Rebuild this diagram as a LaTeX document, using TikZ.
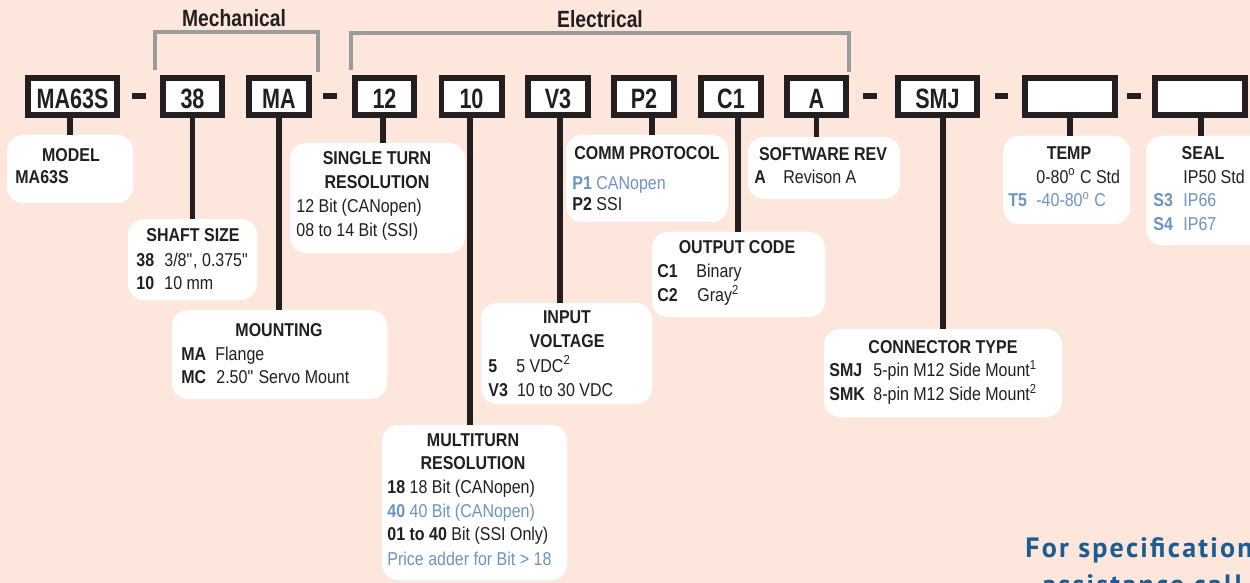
\documentclass[tikz,border=0pt]{standalone}
\usepackage{fontspec}
\setmainfont{Liberation Sans}[FakeStretch=0.86]
\newfontfamily\boxff{Liberation Sans}[FakeStretch=0.77]
\newfontfamily\titleff{Liberation Sans}[FakeStretch=0.82]
\newfontfamily\footff{PT Sans}[LetterSpace=8]
\definecolor{bgpeach}{RGB}{253,231,220}
\definecolor{inkblack}{RGB}{35,31,32}
\definecolor{brgray}{RGB}{155,155,155}
\definecolor{optblue}{RGB}{107,148,197}
\definecolor{footblue}{RGB}{29,92,145}
\begin{document}
\begin{tikzpicture}[x=0.5pt,y=-0.5pt,
 pbox/.style={draw=inkblack, line width=2.8pt, fill=white, minimum height=18.7pt, inner sep=0pt,
   font=\boxff\bfseries\fontsize{14}{16}\selectfont, text=inkblack, text height=13.8pt, text depth=2pt},
 callout/.style={fill=white, rounded corners=8pt, inner sep=0pt},
 stem/.style={draw=inkblack, line width=2.9pt},
 bracket/.style={draw=brgray, line width=2pt},
 ttl/.style={anchor=base, inner sep=0pt, font=\titleff\bfseries\fontsize{11.75}{14}\selectfont, text=inkblack},
 hd/.style={anchor=base, inner sep=0pt, font=\bfseries\fontsize{9.3}{11}\selectfont, text=inkblack},
 tl/.style={anchor=base west, inner sep=0pt, font=\fontsize{9.3}{11}\selectfont, text=inkblack},
 bl/.style={tl, text=optblue},
 dashbar/.style={fill=inkblack},
 foot/.style={anchor=base west, inner sep=0pt, font=\footff\bfseries\fontsize{14}{16}\selectfont, text=footblue},
]
\useasboundingbox (0,0) rectangle (1250,583);
\fill[bgpeach] (0,0) rectangle (1250,583);
\clip (0,0) rectangle (1250,583);

% titles and brackets
\node[ttl] (tMech) at (234,27) {Mechanical};
\node[ttl] (tElec) at (600,28) {Electrical};
\draw[bracket] (155,70) -- (155,32) -- (318,32) -- (318,72);
\draw[bracket] (351,70) -- (351,33) -- (849,33) -- (849,72);

% part number boxes
\node[pbox, minimum width=44.7pt] (bModel) at (72.5,96.5) {MA63S};
\node[pbox, minimum width=29.7pt] (bShaft) at (192.5,96.5) {38};
\node[pbox, minimum width=30.2pt] (bMount) at (279,96.5) {MA};
\node[pbox, minimum width=29.7pt] (bSingle) at (384.5,96.5) {12};
\node[pbox, minimum width=30.2pt] (bMulti) at (471.5,96.5) {10};
\node[pbox, minimum width=30.2pt] (bInput) at (558,96.5) {V3};
\node[pbox, minimum width=30.2pt] (bComm) at (644,96.5) {P2};
\node[pbox, minimum width=30.2pt] (bOut) at (731,96.5) {C1};
\node[pbox, minimum width=29.7pt] (bSoft) at (816.5,96.5) {A};
\node[pbox, minimum width=39.7pt] (bConn) at (937.5,96.5) {SMJ};
\node[pbox, minimum width=45.2pt] (bTemp) at (1070,96.5) {};
\node[pbox, minimum width=45.2pt] (bSeal) at (1200,96.5) {};

% dashes
\fill[dashbar] (132,93.5) rectangle (146,99.5);
\fill[dashbar] (323,93.5) rectangle (337,99.5);
\fill[dashbar] (863,93.5) rectangle (877,99.5);
\fill[dashbar] (995,93.5) rectangle (1008,99.5);
\fill[dashbar] (1127,93.5) rectangle (1141,99.5);

% callouts
\node[callout, minimum width=63pt, minimum height=34pt] (cModel) at (70,169) {};
\node[callout, minimum width=64.5pt, minimum height=40.5pt] (cShaft) at (192.5,259.5) {};
\node[callout, minimum width=107.5pt, minimum height=44.5pt] (cMount) at (279.5,354.5) {};
\node[callout, minimum width=87.5pt, minimum height=55pt] (cSingle) at (377.5,198) {};
\node[callout, minimum width=92.5pt, minimum height=77.5pt] (cMulti) at (474.5,502.5) {};
\node[callout, minimum width=85.5pt, minimum height=50.5pt] (cInput) at (566.5,353.5) {};
\node[callout, minimum width=81pt, minimum height=43.5pt] (cComm) at (647,178.5) {};
\node[callout, minimum width=86.5pt, minimum height=42.5pt] (cOut) at (738.5,274.5) {};
\node[callout, minimum width=76pt, minimum height=31pt] (cSoft) at (824,168) {};
\node[callout, minimum width=63.5pt, minimum height=44pt] (cTemp) at (1066.5,180) {};
\node[callout, minimum width=62pt, minimum height=54.5pt] (cSeal) at (1208,190.5) {};
\node[callout, minimum width=119pt, minimum height=44pt] (cConn) at (943,373) {};

% stems
\draw[stem] ([xshift=-1.25pt]bModel.south) -- ([xshift=-1.25pt]bModel.south |- cModel.north);
\draw[stem] (bShaft.south) -- (bShaft.south |- cShaft.north);
\draw[stem] (bMount.south) -- (bMount.south |- cMount.north);
\draw[stem] ([xshift=-0.75pt]bSingle.south) -- ([xshift=-0.75pt]bSingle.south |- cSingle.north);
\draw[stem] ([xshift=-0.75pt]bMulti.south) -- ([xshift=-0.75pt]bMulti.south |- cMulti.north);
\draw[stem] ([xshift=1pt]bInput.south) -- ([xshift=1pt]bInput.south |- cInput.north);
\draw[stem] ([xshift=4pt]bComm.south) -- ([xshift=4pt]bComm.south |- cComm.north);
\draw[stem] ([xshift=3.5pt]bOut.south) -- ([xshift=3.5pt]bOut.south |- cOut.north);
\draw[stem] (bSoft.south) -- (bSoft.south |- cSoft.north);
\draw[stem] ([xshift=2.75pt]bConn.south) -- ([xshift=2.75pt]bConn.south |- cConn.north);
\draw[stem] (bTemp.south) -- (bTemp.south |- cTemp.north);
\draw[stem] ([xshift=0.5pt]bSeal.south) -- ([xshift=0.5pt]bSeal.south |- cSeal.north);

% MODEL
\node[hd] (tModelH) at (71,161.7) {MODEL};
\node[tl] (tModel1) at (15,183.3) {\textbf{MA63S}};
% SHAFT SIZE
\node[hd] (tShaftH) at (193,241.7) {SHAFT SIZE};
\node[tl] (tShaft1a) at (136,266.7) {\textbf{38}};
\node[tl] (tShaft1b) at (164,266.7) {3/8\textquotedbl, 0.375\textquotedbl};
\node[tl] (tShaft2a) at (136,290) {\textbf{10}};
\node[tl] (tShaft2b) at (164,290) {10 mm};
% MOUNTING
\node[hd] (tMountH) at (279,336.7) {MOUNTING};
\node[tl] (tMount1a) at (181,360) {\textbf{MA}};
\node[tl] (tMount1b) at (215,360) {Flange};
\node[tl] (tMount2a) at (181,384) {\textbf{MC}};
\node[tl] (tMount2b) at (216,384) {2.50\textquotedbl\ Servo Mount};
% SINGLE TURN
\node[hd] (tSingleH1) at (377,165) {SINGLE TURN};
\node[hd] (tSingleH2) at (377,188.3) {RESOLUTION};
\node[tl] (tSingle1) at (296,213) {12 Bit (CANopen)};
\node[tl] (tSingle2) at (296,236.7) {08 to 14 Bit (SSI)};
% MULTITURN
\node[hd] (tMultiH1) at (473,446.7) {MULTITURN};
\node[hd] (tMultiH2) at (473,469.3) {RESOLUTION};
\node[tl] (tMulti1) at (387,494) {\textbf{18} 18 Bit (CANopen)};
\node[bl] (tMulti2) at (387,517.3) {\textbf{40} 40 Bit (CANopen)};
\node[tl] (tMulti3) at (387,540.7) {\textbf{01 to 40} Bit (SSI Only)};
\node[bl] (tMulti4) at (387,565) {Price adder for Bit > 18};
% INPUT VOLTAGE
\node[hd] (tInputH1) at (567,324) {INPUT};
\node[hd] (tInputH2) at (567,347.7) {VOLTAGE};
\node[tl] (tInput1a) at (488,372.3) {\textbf{5}};
\node[tl] (tInput1b) at (516,372.3) {5 VDC\textsuperscript{2}};
\node[tl] (tInput2a) at (488,396) {\textbf{V3}};
\node[tl] (tInput2b) at (516.7,396) {10 to 30 VDC};
% COMM PROTOCOL
\node[hd] (tCommH) at (647,160) {COMM PROTOCOL};
\node[bl] (tComm1) at (572,190) {\textbf{P1} CANopen};
\node[tl] (tComm2) at (572,210.7) {\textbf{P2} SSI};
% OUTPUT CODE
\node[hd] (tOutH) at (737,254) {OUTPUT CODE};
\node[tl] (tOut1a) at (657,277.3) {\textbf{C1}};
\node[tl] (tOut1b) at (696,277.3) {Binary};
\node[tl] (tOut2a) at (657,301.7) {\textbf{C2}};
\node[tl] (tOut2b) at (697,301.7) {Gray\textsuperscript{2}};
% SOFTWARE REV
\node[hd] (tSoftH) at (823,160.7) {SOFTWARE REV};
\node[tl] (tSoft1a) at (754,184) {\textbf{A}};
\node[tl] (tSoft1b) at (783,184) {Revison A};
% TEMP
\node[hd] (tTempH) at (1069,159.3) {TEMP};
\node[tl] (tTemp1) at (1036,183.3) {0-80\textsuperscript{o} C Std};
\node[bl] (tTemp2a) at (1008,206.7) {\textbf{T5}};
\node[bl] (tTemp2b) at (1036,206.7) {-40-80\textsuperscript{o} C};
% SEAL
\node[hd] (tSealH) at (1203,159.3) {SEAL};
\node[tl] (tSeal1) at (1183,183.3) {IP50 Std};
\node[bl] (tSeal2a) at (1153,206.7) {\textbf{S3}};
\node[bl] (tSeal2b) at (1183,206.7) {IP66};
\node[bl] (tSeal3a) at (1153,230.7) {\textbf{S4}};
\node[bl] (tSeal3b) at (1183,230.7) {IP67};
% CONNECTOR TYPE
\node[hd] (tConnH) at (943,353.3) {CONNECTOR TYPE};
\node[tl] (tConn1a) at (829,376.7) {\textbf{SMJ}};
\node[tl] (tConn1b) at (873,376.7) {5-pin M12 Side Mount\textsuperscript{1}};
\node[tl] (tConn2a) at (829,400.7) {\textbf{SMK}};
\node[tl] (tConn2b) at (873,400.7) {8-pin M12 Side Mount\textsuperscript{2}};

% footer
\node[foot] (tFoot1) at (1025,557) {For specification};
\node[foot] (tFoot2) at (1042,594) {assistance call};
\end{tikzpicture}
\end{document}
